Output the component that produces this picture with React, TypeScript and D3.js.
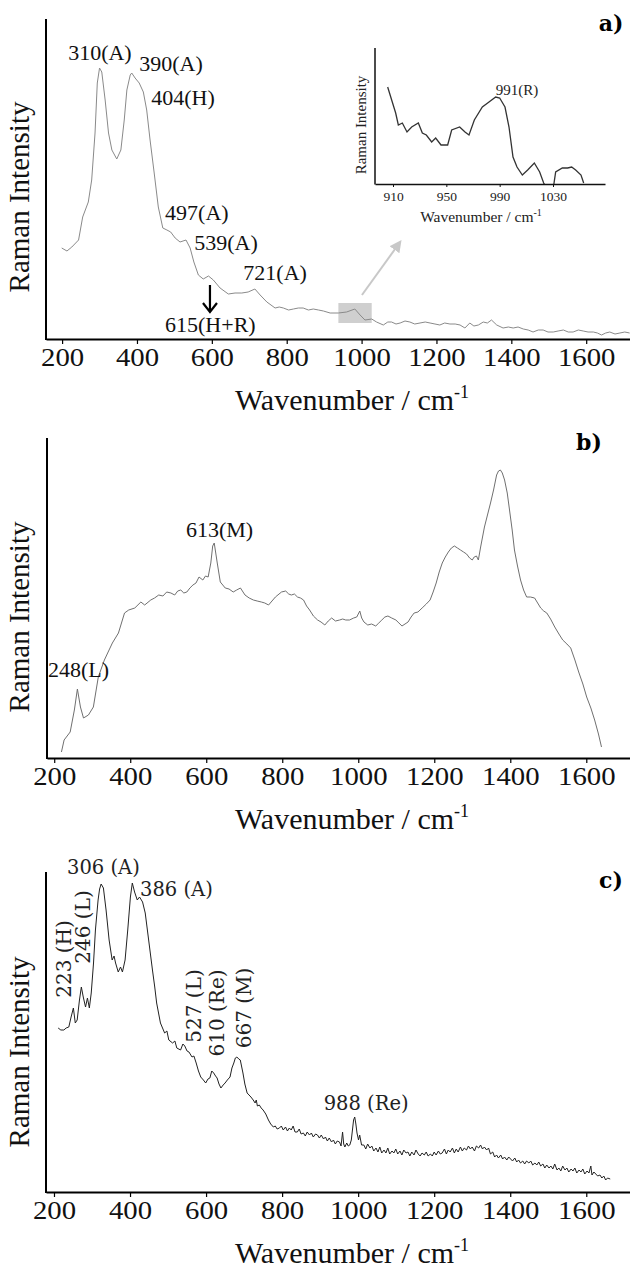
import React, { useEffect, useRef } from 'react';
import * as d3 from 'd3';

// Raman spectra: [wavenumber (cm-1), intensity (arb. units)]
const spectrumA: [number, number][] = [
  [199, 91], [213, 88], [226, 92], [244, 99], [255, 122], [270, 137], [279, 159], [288, 206],
  [294, 256], [300, 271], [306, 267], [315, 239], [324, 206], [333, 189], [346, 180], [357, 189],
  [366, 219], [373, 249], [382, 264], [386, 266], [395, 261], [406, 256], [417, 247], [426, 229],
  [435, 199], [446, 166], [457, 132], [469, 111], [480, 109], [490, 107], [502, 101], [515, 97],
  [531, 99], [542, 91], [552, 77], [564, 64], [577, 60], [591, 63], [604, 59], [622, 51],
  [644, 45], [662, 46], [680, 46], [697, 47], [715, 50], [729, 44], [747, 37], [769, 31],
  [780, 32], [791, 31], [805, 29], [818, 30], [831, 31], [844, 31], [858, 29], [871, 30],
  [885, 29], [898, 28], [916, 26], [938, 26], [960, 27], [982, 30], [996, 24], [1009, 19],
  [1027, 20], [1040, 17], [1058, 14], [1070, 17], [1080, 17], [1092, 15], [1103, 16], [1116, 18],
  [1129, 17], [1142, 15], [1156, 16], [1170, 17], [1183, 16], [1196, 15], [1209, 14], [1222, 16],
  [1236, 15], [1250, 15], [1263, 14], [1276, 11], [1289, 16], [1300, 13], [1312, 14], [1325, 17],
  [1336, 16], [1347, 19], [1361, 14], [1378, 11], [1392, 12], [1405, 11], [1418, 12], [1432, 10],
  [1445, 9], [1458, 7], [1472, 9], [1485, 9], [1498, 7], [1512, 7], [1525, 8], [1539, 9],
  [1552, 7], [1565, 7], [1579, 9], [1592, 8], [1605, 7], [1619, 7], [1630, 6], [1641, 4],
  [1652, 6], [1663, 7], [1677, 5], [1690, 6], [1703, 7], [1716, 6],
];

const insetA: [number, number][] = [
  [906, 97], [909, 84], [912, 71], [914, 59], [917, 61], [920.5, 52], [924, 57], [929, 61],
  [932, 51], [935, 49], [939, 42], [942, 46], [946, 39], [951, 39], [954, 54], [960, 57],
  [964, 52], [967, 49], [971, 64], [977, 77], [982, 82], [987, 87], [990, 86], [994, 77],
  [997, 57], [1000, 27], [1003, 17], [1007, 9], [1011, 14], [1016, 21], [1020, 12], [1023, 1],
  [1026, -6], [1030, -6], [1032, 12], [1037, 16], [1041, 16], [1044, 17], [1047, 14],
  [1051, 9], [1053, 1],
];

const spectrumB: [number, number][] = [
  [219, 6], [226, 18], [242, 26], [253, 48], [261, 69], [269, 51], [277, 40], [290, 43],
  [303, 51], [316, 81], [332, 98], [353, 115], [369, 125], [385, 145], [396, 148], [412, 150],
  [428, 156], [438, 153], [454, 158], [464, 160], [475, 163], [486, 162], [496, 166], [507, 165],
  [517, 163], [525, 167], [533, 168], [541, 165], [549, 166], [557, 170], [565, 173], [573, 175],
  [581, 181], [591, 178], [598, 182], [605, 181], [612, 195], [617, 212], [621, 215], [625, 205],
  [629, 195], [637, 176], [650, 170], [660, 169], [671, 166], [680, 168], [690, 170], [702, 163],
  [713, 160], [724, 158], [734, 157], [745, 156], [754, 155], [764, 153], [773, 157], [782, 161],
  [798, 166], [809, 167], [817, 164], [824, 163], [832, 164], [840, 161], [848, 160], [856, 158],
  [864, 152], [872, 148], [882, 142], [893, 138], [902, 136], [912, 133], [921, 137], [930, 140],
  [940, 137], [951, 138], [959, 139], [967, 138], [977, 138], [988, 140], [996, 141], [1004, 147],
  [1009, 140], [1015, 136], [1025, 133], [1035, 134], [1046, 132], [1054, 135], [1062, 138],
  [1070, 141], [1078, 142], [1088, 140], [1099, 138], [1107, 135], [1115, 132], [1123, 134],
  [1131, 136], [1139, 141], [1147, 145], [1157, 146], [1168, 150], [1179, 154], [1189, 158],
  [1197, 166], [1205, 175], [1213, 186], [1221, 195], [1229, 201], [1237, 206], [1245, 210],
  [1253, 212], [1261, 210], [1269, 208], [1277, 206], [1285, 204], [1293, 200], [1300, 198],
  [1305, 201], [1311, 202], [1316, 198], [1322, 211], [1332, 231], [1340, 243], [1348, 255],
  [1356, 268], [1364, 283], [1369, 287], [1374, 288], [1379, 285], [1385, 278], [1392, 265],
  [1398, 248], [1405, 228], [1411, 208], [1419, 192], [1427, 178], [1435, 168], [1443, 161],
  [1453, 161], [1464, 160], [1472, 155], [1480, 150], [1488, 147], [1496, 145], [1506, 139],
  [1517, 131], [1528, 124], [1538, 118], [1549, 114], [1559, 110], [1570, 98], [1580, 86],
  [1591, 74], [1601, 61], [1612, 50], [1622, 38], [1632, 24], [1640, 11],
];

const spectrumC: [number, number][] = [
  [211, 164], [218, 162], [226, 162], [232, 164], [239, 165], [245, 175], [251, 184], [256, 169],
  [261, 172], [267, 192], [272, 205], [277, 195], [283, 185], [288, 194], [293, 184], [298, 199],
  [304, 229], [309, 262], [316, 292], [320, 303], [324, 308], [330, 304], [337, 282], [345, 252],
  [353, 232], [358, 236], [362, 229], [369, 220], [375, 225], [380, 220], [387, 232], [394, 262],
  [401, 295], [406, 309], [412, 300], [419, 292], [425, 295], [433, 290], [440, 279], [449, 252],
  [459, 222], [465, 205], [470, 189], [480, 169], [491, 159], [497, 161], [502, 152], [512, 149],
  [518, 151], [523, 144], [533, 142], [539, 148], [544, 146], [550, 141], [555, 140], [563, 135],
  [568, 136], [574, 129], [580, 121], [586, 115], [593, 112], [599, 109], [605, 113], [610, 114],
  [615, 121], [620, 119], [625, 116], [629, 114], [634, 108], [639, 104], [645, 107], [650, 109],
  [656, 112], [663, 115], [668, 124], [673, 129], [677, 134], [681, 135], [686, 133], [690, 132],
  [697, 119], [702, 108], [708, 99], [713, 97], [718, 95], [724, 92], [729, 89], [732, 92],
  [735, 86], [740, 87], [745, 84], [750, 82], [757, 78], [764, 72], [770, 68], [777, 65],
  [782, 66], [787, 63], [793, 64], [798, 66], [803, 62], [809, 65], [814, 61], [819, 64],
  [824, 62], [829, 66], [834, 60], [840, 60], [845, 63], [850, 58], [856, 59], [861, 56],
  [866, 60], [872, 57], [877, 59], [882, 55], [888, 58], [893, 57], [898, 54], [903, 57],
  [909, 53], [914, 55], [919, 51], [924, 54], [930, 50], [935, 52], [940, 48], [945, 51],
  [951, 50], [955, 46], [959, 60], [962, 48], [965, 45], [970, 49], [974, 46], [978, 47],
  [982, 52], [985, 62], [988, 72], [991, 75], [994, 68], [997, 59], [1001, 52], [1004, 57],
  [1009, 47], [1015, 47], [1020, 43], [1025, 48], [1031, 44], [1036, 46], [1041, 41], [1047, 44],
  [1052, 40], [1057, 45], [1062, 39], [1068, 42], [1073, 39], [1078, 44], [1083, 38], [1089, 41],
  [1094, 39], [1099, 43], [1104, 38], [1110, 41], [1115, 37], [1120, 42], [1126, 39], [1131, 40],
  [1136, 36], [1141, 40], [1147, 37], [1152, 42], [1158, 38], [1163, 36], [1168, 39], [1174, 37],
  [1179, 40], [1184, 36], [1190, 38], [1195, 36], [1200, 40], [1205, 37], [1211, 41], [1216, 38],
  [1221, 39], [1227, 43], [1232, 38], [1237, 42], [1242, 40], [1248, 44], [1253, 39], [1258, 43],
  [1263, 40], [1269, 45], [1274, 41], [1279, 44], [1285, 42], [1290, 46], [1295, 43], [1300, 45],
  [1306, 41], [1311, 46], [1317, 44], [1322, 47], [1327, 43], [1332, 45], [1338, 42], [1343, 44],
  [1348, 38], [1354, 40], [1359, 35], [1364, 37], [1369, 34], [1375, 37], [1380, 33], [1385, 35],
  [1391, 32], [1396, 35], [1401, 33], [1406, 31], [1412, 34], [1417, 30], [1422, 32], [1427, 29],
  [1433, 31], [1438, 28], [1443, 31], [1449, 29], [1454, 31], [1459, 27], [1465, 29], [1470, 27],
  [1475, 30], [1480, 26], [1486, 28], [1491, 24], [1496, 27], [1502, 24], [1507, 26], [1512, 23],
  [1517, 28], [1523, 22], [1528, 24], [1533, 21], [1538, 26], [1544, 22], [1549, 24], [1554, 20],
  [1560, 23], [1565, 21], [1570, 24], [1575, 19], [1581, 22], [1586, 20], [1591, 23], [1596, 18],
  [1602, 21], [1607, 19], [1612, 26], [1615, 17], [1620, 20], [1625, 18], [1630, 16], [1636, 17],
  [1641, 14], [1646, 16], [1651, 12], [1656, 14], [1663, 13],
];

// tick values
const mainTicks = [200, 400, 600, 800, 1000, 1200, 1400, 1600];
const insetTicks = [910, 950, 990, 1030];

// peak labels: text, wavenumber, intensity (label anchor)
const labelsA = [
  { text: '310(A)', w: 301, i: 279 },
  { text: '390(A)', w: 491, i: 268 },
  { text: '404(H)', w: 523, i: 234 },
  { text: '497(A)', w: 560, i: 119 },
  { text: '539(A)', w: 638, i: 89 },
  { text: '721(A)', w: 769, i: 59 },
  { text: '615(H+R)', w: 596, i: 7 },
];
const labelsB = [
  { text: '613(M)', w: 635, i: 221 },
  { text: '248(L)', w: 264, i: 81 },
];
const labelsCFlat = [
  { text: '306 (A)', w: 330, i: 318 },
  { text: '386 (A)', w: 522, i: 296 },
  { text: '988 (Re)', w: 1021, i: 82 },
];
const labelsCUp = [
  { text: '223 (H)', w: 226, i: 233 },
  { text: '246 (L)', w: 276, i: 265 },
  { text: '527 (L)', w: 567, i: 186 },
  { text: '610 (Re)', w: 628, i: 179 },
  { text: '667 (M)', w: 700, i: 184 },
];
const insetLabel = { text: '991(R)', w: 1003, i: 89 };
const zoomBoxA = { w0: 938, w1: 1027, i0: 16, i1: 36 };
const arrowA = { w: 595, i0: 54, i1: 27 };
const pointerA = { w0: 1001, i0: 44, w1: 1103, i1: 97 };

const SERIF = '"Liberation Serif", "Times New Roman", serif';
const WIDE = '"DejaVu Serif", serif';

const drawPanel = (svg, opt) => {
  const x = d3.scaleLinear().domain(opt.xDomain).range([opt.left, 630]);
  const y = d3.scaleLinear().domain([0, 320]).range([opt.bottom, opt.bottom - 320]);
  const g = svg.append('g');

  if (opt.before) opt.before(g, x, y);

  g.append('path')
    .datum(opt.data)
    .attr('d', d3.line().x(d => x(d[0])).y(d => y(d[1])))
    .attr('fill', 'none')
    .attr('stroke', opt.color)
    .attr('stroke-width', opt.width || 1)
    .attr('stroke-linejoin', 'round');

  // x axis
  const ax = g.append('g')
    .attr('transform', `translate(0,${opt.bottom})`)
    .call(d3.axisBottom(x).tickValues(mainTicks).tickFormat(d3.format('d'))
      .tickSize(5).tickSizeOuter(0).tickPadding(4));
  ax.attr('font-family', SERIF).attr('font-size', 25);
  ax.select('.domain').attr('stroke', '#000').attr('stroke-width', 2);
  ax.selectAll('.tick line').attr('stroke', '#000').attr('stroke-width', 1.2);
  ax.selectAll('.tick text').attr('fill', '#111').attr('transform', 'scale(1.15,1)');

  // y axis (no ticks)
  g.append('line')
    .attr('x1', opt.left).attr('x2', opt.left)
    .attr('y1', y(320)).attr('y2', opt.bottom + 1)
    .attr('stroke', '#000').attr('stroke-width', 2);

  // axis titles
  const t = g.append('text')
    .attr('x', 352).attr('y', opt.bottom + 71)
    .attr('text-anchor', 'middle')
    .attr('font-family', SERIF).attr('font-size', 30).attr('fill', '#111');
  t.append('tspan').text('Wavenumber / cm');
  t.append('tspan').attr('dy', -12).attr('font-size', 18).text('-1');

  g.append('text')
    .attr('transform', `translate(29,${opt.bottom - 320 + opt.ylabelOffset}) rotate(-90)`)
    .attr('text-anchor', 'middle')
    .attr('font-family', SERIF).attr('font-size', 29).attr('fill', '#111')
    .text('Raman Intensity');

  // panel letter
  g.append('text')
    .attr('x', opt.letterX).attr('y', opt.bottom - 320 + opt.letterDy)
    .attr('text-anchor', 'middle')
    .attr('font-family', WIDE).attr('font-weight', 'bold').attr('font-size', 22).attr('fill', '#000')
    .text(opt.letter);

  if (opt.after) opt.after(g, x, y);
};

const drawInset = (svg) => {
  const x = d3.scaleLinear().domain([896.5, 1069]).range([375, 605]);
  const y = d3.scaleLinear().domain([0, 136]).range([184, 48]);
  const g = svg.append('g');

  g.append('clipPath').attr('id', 'insetClip')
    .append('rect').attr('x', 375).attr('y', 40).attr('width', 235).attr('height', 144);

  g.append('path')
    .datum(insetA)
    .attr('clip-path', 'url(#insetClip)')
    .attr('d', d3.line().x(d => x(d[0])).y(d => y(d[1])))
    .attr('fill', 'none').attr('stroke', '#333').attr('stroke-width', 1.3);

  const ax = g.append('g')
    .attr('transform', 'translate(0,184)')
    .call(d3.axisBottom(x).tickValues(insetTicks).tickFormat(d3.format('d'))
      .tickSize(3).tickSizeOuter(0).tickPadding(4));
  ax.attr('font-family', SERIF).attr('font-size', 13.5);
  ax.select('.domain').attr('stroke', '#111').attr('stroke-width', 1.5);
  ax.selectAll('.tick line').attr('stroke', '#111');
  ax.selectAll('.tick text').attr('fill', '#222');

  g.append('line')
    .attr('x1', 375).attr('x2', 375).attr('y1', 48).attr('y2', 184.5)
    .attr('stroke', '#111').attr('stroke-width', 1.5);

  const t = g.append('text')
    .attr('x', 481).attr('y', 222)
    .attr('text-anchor', 'middle')
    .attr('font-family', SERIF).attr('font-size', 15.5).attr('fill', '#222');
  t.append('tspan').text('Wavenumber / cm');
  t.append('tspan').attr('dy', -6).attr('font-size', 10).text('-1');

  g.append('text')
    .attr('transform', 'translate(366,125) rotate(-90)')
    .attr('text-anchor', 'middle')
    .attr('font-family', SERIF).attr('font-size', 15).attr('fill', '#222')
    .text('Raman Intensity');

  g.append('text')
    .attr('x', x(insetLabel.w)).attr('y', y(insetLabel.i))
    .attr('text-anchor', 'middle')
    .attr('font-family', SERIF).attr('font-size', 15).attr('fill', '#222')
    .text(insetLabel.text);
};

const App = () => {
  const svgRef = useRef(null);

  useEffect(() => {
    const svg = d3.select(svgRef.current);
    svg.selectAll('*').remove();

    const defs = svg.append('defs');
    defs.append('marker')
      .attr('id', 'grayHead')
      .attr('viewBox', '0 0 10 10')
      .attr('refX', 8).attr('refY', 5)
      .attr('markerWidth', 6).attr('markerHeight', 6)
      .attr('markerUnits', 'strokeWidth')
      .attr('orient', 'auto')
      .append('path').attr('d', 'M0,0 L10,5 L0,10 z').attr('fill', '#c8c8c8');

    // a)
    drawPanel(svg, {
      data: spectrumA,
      xDomain: [157, 1717],
      left: 46,
      bottom: 339,
      color: '#8a8a8a',
      width: 1,
      letter: 'a)',
      letterX: 611,
      letterDy: 12,
      ylabelOffset: 178,
      before: (g, x, y) => {
        g.append('rect')
          .attr('x', x(zoomBoxA.w0)).attr('y', y(zoomBoxA.i1))
          .attr('width', x(zoomBoxA.w1) - x(zoomBoxA.w0))
          .attr('height', y(zoomBoxA.i0) - y(zoomBoxA.i1))
          .attr('fill', '#cfcfcf');
      },
      after: (g, x, y) => {
        labelsA.forEach(l => {
          g.append('text')
            .attr('x', x(l.w)).attr('y', y(l.i))
            .attr('text-anchor', 'middle')
            .attr('font-family', SERIF).attr('font-size', 22).attr('fill', '#111')
            .text(l.text);
        });
        // black arrow to 615 band
        const ax = x(arrowA.w);
        const y0 = y(arrowA.i0);
        const y1 = y(arrowA.i1);
        g.append('path')
          .attr('d', `M${ax},${y0} L${ax},${y1} M${ax - 7},${y1 - 9} L${ax},${y1} L${ax + 7},${y1 - 9}`)
          .attr('fill', 'none').attr('stroke', '#000').attr('stroke-width', 2.2);
        // grey pointer to inset
        g.append('line')
          .attr('x1', x(pointerA.w0)).attr('y1', y(pointerA.i0))
          .attr('x2', x(pointerA.w1)).attr('y2', y(pointerA.i1))
          .attr('stroke', '#c8c8c8').attr('stroke-width', 2)
          .attr('marker-end', 'url(#grayHead)');
      },
    });
    drawInset(svg);

    // b)
    drawPanel(svg, {
      data: spectrumB,
      xDomain: [181, 1715],
      left: 47,
      bottom: 758,
      color: '#707070',
      width: 1,
      letter: 'b)',
      letterX: 589,
      letterDy: 12,
      ylabelOffset: 179,
      after: (g, x, y) => {
        labelsB.forEach(l => {
          g.append('text')
            .attr('x', x(l.w)).attr('y', y(l.i))
            .attr('text-anchor', 'middle')
            .attr('font-family', SERIF).attr('font-size', 22).attr('fill', '#111')
            .text(l.text);
        });
      },
    });

    // c)
    drawPanel(svg, {
      data: spectrumC,
      xDomain: [179, 1715],
      left: 46,
      bottom: 1192,
      color: '#222',
      width: 1,
      letter: 'c)',
      letterX: 611,
      letterDy: 16,
      ylabelOffset: 180,
      after: (g, x, y) => {
        labelsCFlat.forEach(l => {
          g.append('text')
            .attr('x', x(l.w)).attr('y', y(l.i))
            .attr('text-anchor', 'middle')
            .attr('font-family', WIDE).attr('font-size', 19.5).attr('fill', '#222')
            .text(l.text);
        });
        labelsCUp.forEach(l => {
          g.append('text')
            .attr('transform', `translate(${x(l.w)},${y(l.i)}) rotate(-90)`)
            .attr('text-anchor', 'middle')
            .attr('dominant-baseline', 'central')
            .attr('font-family', WIDE).attr('font-size', 20).attr('fill', '#222')
            .text(l.text);
        });
      },
    });
  }, []);

  return (
    <div style={{ position: 'absolute', left: 0, top: 0, background: '#fff' }}>
      <svg ref={svgRef} width={630} height={1269} style={{ display: 'block' }}></svg>
    </div>
  );
};

export default App;
